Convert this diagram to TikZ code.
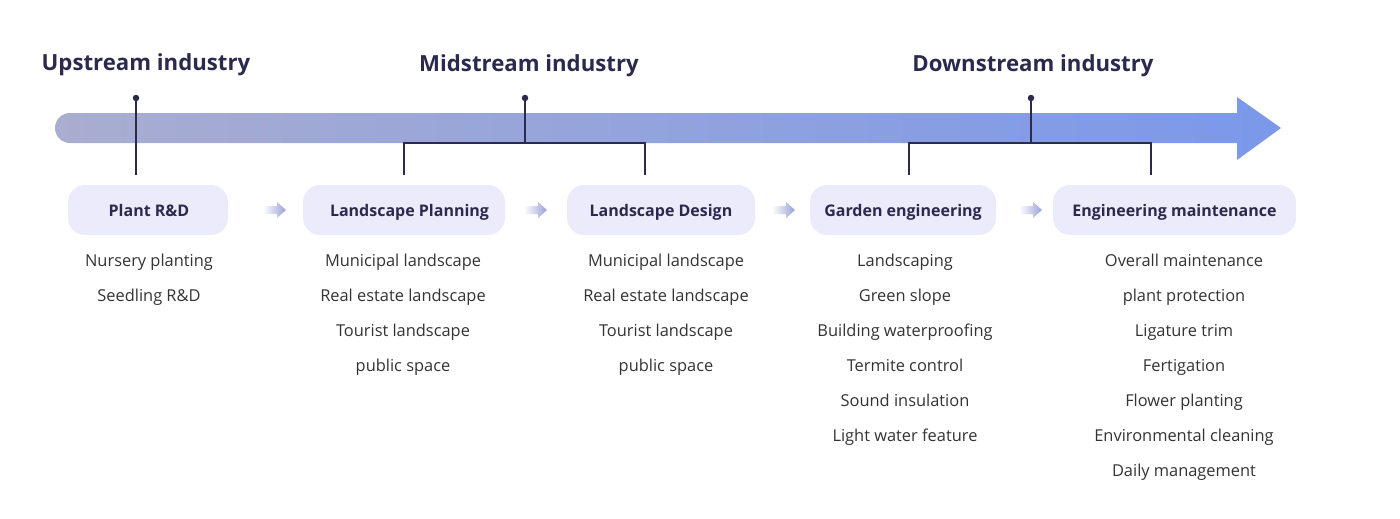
\documentclass[tikz,border=0pt]{standalone}
\usepackage{fontspec}
\setmainfont{Open Sans}
\usetikzlibrary{positioning}
\definecolor{ink}{HTML}{2B2A4C}
\definecolor{txt}{HTML}{333333}
\definecolor{boxfill}{HTML}{ECEBFC}
\definecolor{arL}{HTML}{A9ADD0}
\definecolor{arR}{HTML}{7B98EA}
\definecolor{smallar}{HTML}{9AA1D6}
\tikzset{
  head/.style={font=\fontsize{22.2}{26}\selectfont\bfseries, text=ink, inner sep=0pt, text height=16pt, text depth=5pt},
  stage/.style={rounded corners=17pt, fill=boxfill, minimum height=50pt, inner sep=0pt, font=\fontsize{16}{19}\selectfont\bfseries, text=ink, text height=13pt, text depth=0pt},
  item/.style={font=\fontsize{16.4}{19}\selectfont, text=txt, inner sep=0pt, text height=12pt, text depth=3pt},
  link/.style={draw=ink, line width=1.4pt},
  dotn/.style={circle, fill=ink, minimum size=6.5pt, inner sep=0pt},
}
\begin{document}
\begin{tikzpicture}[x=1pt,y=-1pt]
\useasboundingbox (0,0) rectangle (1400,519);
% main arrow
\shade[left color=arL, right color=arR]
  (70,113) -- (1237,113) -- (1237,97) -- (1281,128) -- (1237,160) -- (1237,143) -- (70,143)
  arc[start angle=270, end angle=90, radius=15pt] -- cycle;
% headers
\node[head] (h1) at (146,65) {Upstream industry};
\node[head] (h2) at (529,66) {Midstream industry};
\node[head] (h3) at (1033,66) {Downstream industry};
% stage boxes
\node[stage, minimum width=160pt] (s1) at (148,210) {\hspace*{2pt}Plant R\&D};
\node[stage, minimum width=202pt] (s2) at (404,210) {\hspace*{11pt}Landscape Planning};
\node[stage, minimum width=188pt] (s3) at (661,210) {Landscape Design};
\node[stage, minimum width=186pt] (s4) at (903,210) {Garden engineering};
\node[stage, minimum width=243pt] (s5) at (1174.5,210) {Engineering maintenance};
% dots and brackets
\node[dotn] (d1) at (136,98) {};
\node[dotn] (d2) at (525,98) {};
\node[dotn] (d3) at (1031,98) {};
\coordinate (b1) at (136,175);
\coordinate (j2) at (525,143);
\coordinate (b2l) at (404,175);
\coordinate (b2r) at (645,175);
\coordinate (j3) at (1031,143);
\coordinate (b3l) at (909,175);
\coordinate (b3r) at (1151,175);
\draw[link] (d1.center) -- (b1);
\draw[link] (d2.center) -- (j2);
\draw[link] (b2l) |- (j2) -| (b2r);
\draw[link] (d3.center) -- (j3);
\draw[link] (b3l) |- (j3) -| (b3r);
% small arrows
\foreach \xx in {263,524,772,1019}{
  \shade[left color=white, right color=smallar]
    (\xx,206) -- (\xx+14,206) -- (\xx+14,202) -- (\xx+23,210) -- (\xx+14,218) -- (\xx+14,214) -- (\xx,214) -- cycle;
}
% items
\node[item] (a1) at (149,262) {Nursery planting};
\node[item] (a2) at (149,297) {Seedling R\&D};
\node[item] (p1) at (403,262) {Municipal landscape};
\node[item] (p2) at (403,297) {Real estate landscape};
\node[item] (p3) at (403,332) {Tourist landscape};
\node[item] (p4) at (403,367) {public space};
\node[item] (q1) at (666,262) {Municipal landscape};
\node[item] (q2) at (666,297) {Real estate landscape};
\node[item] (q3) at (666,332) {Tourist landscape};
\node[item] (q4) at (666,367) {public space};
\node[item] (g1) at (905,262) {Landscaping};
\node[item] (g2) at (905,297) {Green slope};
\node[item] (g3) at (905,332) {Building waterproofing};
\node[item] (g4) at (905,367) {Termite control};
\node[item] (g5) at (905,402) {Sound insulation};
\node[item] (g6) at (905,437) {Light water feature};
\node[item] (e1) at (1184,262) {Overall maintenance};
\node[item] (e2) at (1184,297) {plant protection};
\node[item] (e3) at (1184,332) {Ligature trim};
\node[item] (e4) at (1184,367) {Fertigation};
\node[item] (e5) at (1184,402) {Flower planting};
\node[item] (e6) at (1184,437) {Environmental cleaning};
\node[item] (e7) at (1184,472) {Daily management};
\end{tikzpicture}
\end{document}
